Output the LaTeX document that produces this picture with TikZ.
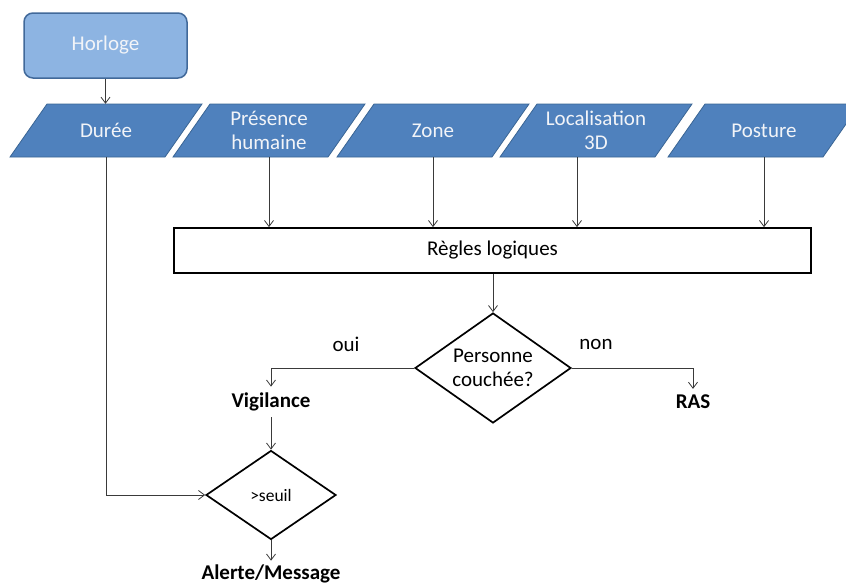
\documentclass[tikz,border=0pt]{standalone}
\usepackage{fontspec}
\setmainfont{Carlito}
\usetikzlibrary{arrows.meta,shapes.geometric}
\definecolor{parafill}{HTML}{4F81BD}
\definecolor{paraedge}{HTML}{3A6594}
\definecolor{clockfill}{HTML}{8DB4E2}
\definecolor{clockedge}{HTML}{41699A}
\definecolor{linegray}{HTML}{3A3A3A}
\definecolor{paletext}{HTML}{F2F4F8}
\begin{document}
\begin{tikzpicture}[x=1pt,y=-1pt,
 every node/.style={font=\fontsize{21}{24}\selectfont},
 clock/.style={draw=clockedge, line width=1.5pt, fill=clockfill, rounded corners=9pt,
   minimum width=163, minimum height=65, text=paletext, inner sep=0},
 parashape/.style={draw=paraedge, line width=0.8pt, fill=parafill},
 paratext/.style={text=paletext, align=center, minimum width=118, minimum height=53, inner sep=0},
 rulebox/.style={draw=black, line width=1.7pt, minimum width=637, minimum height=45, inner sep=0},
 decision/.style={diamond, draw=black, line width=1.7pt, inner sep=0, align=center},
 outcome/.style={font=\fontsize{21}{24}\selectfont\bfseries, inner sep=6pt},
 lbl/.style={inner sep=0},
 arr/.style={draw=linegray, line width=0.8pt, -{Straight Barb[length=6pt,width=9pt]}}
]
\useasboundingbox (0,0) rectangle (846,587);
\clip (0,0) rectangle (846,587);

% top clock
\node[clock] (clock) at (105.5,45.5) {Horloge};

% input parallelograms
\foreach \n/\b/\t in {dur/10/Durée, pres/173/{Présence\\humaine}, zone/337/Zone,
                      loc/500/{Localisation\\3D}, post/668/Posture}{
  \path[parashape] (\b,157) -- ++(37,-53) -- ++(155,0) -- ++(-37,53) -- cycle;
  \node[paratext] (\n) at (\b+96,130.5) {\t};
}

% rules box
\node[rulebox] (rules) at (492.5,250.5) {Règles logiques};

% decisions
\node[decision, shape aspect=1.42, minimum width=156, minimum height=110] (dec1) at (493,368)
  {Personne\\couchée?};
\node[decision, shape aspect=1.46, minimum width=130, minimum height=89,
      font=\fontsize{17.5}{20}\selectfont] (seuil) at (271,495) {>seuil};

% outcomes and labels
\node[outcome] (vig) at (271,402) {Vigilance};
\node[outcome] (ras) at (693,402) {RAS};
\node[outcome, inner sep=4pt] (alert) at (271,574) {Alerte/Message};
\node[lbl] (oui) at (346,344) {oui};
\node[lbl] (non) at (596,344) {non};

% connectors
\draw[arr] (clock.south) -- (clock.south |- dur.north);
\draw[arr] (pres.south) -- (pres.south |- rules.north);
\draw[arr] (zone.south) -- (zone.south |- rules.north);
\draw[arr] ([xshift=-19pt]loc.south) coordinate (locout) -- (locout |- rules.north);
\draw[arr] (post.south) -- (post.south |- rules.north);
\draw[arr] (rules.south -| dec1.north) -- (dec1.north);
\draw[arr] (dec1.west) -| (vig.north);
\draw[arr] (dec1.east) -| (ras.north);
\draw[arr] (vig.south) -- (seuil.north);
\draw[arr] (dur.south) |- (seuil.west);
\draw[arr] (seuil.south) -- (alert.north);
\end{tikzpicture}
\end{document}
